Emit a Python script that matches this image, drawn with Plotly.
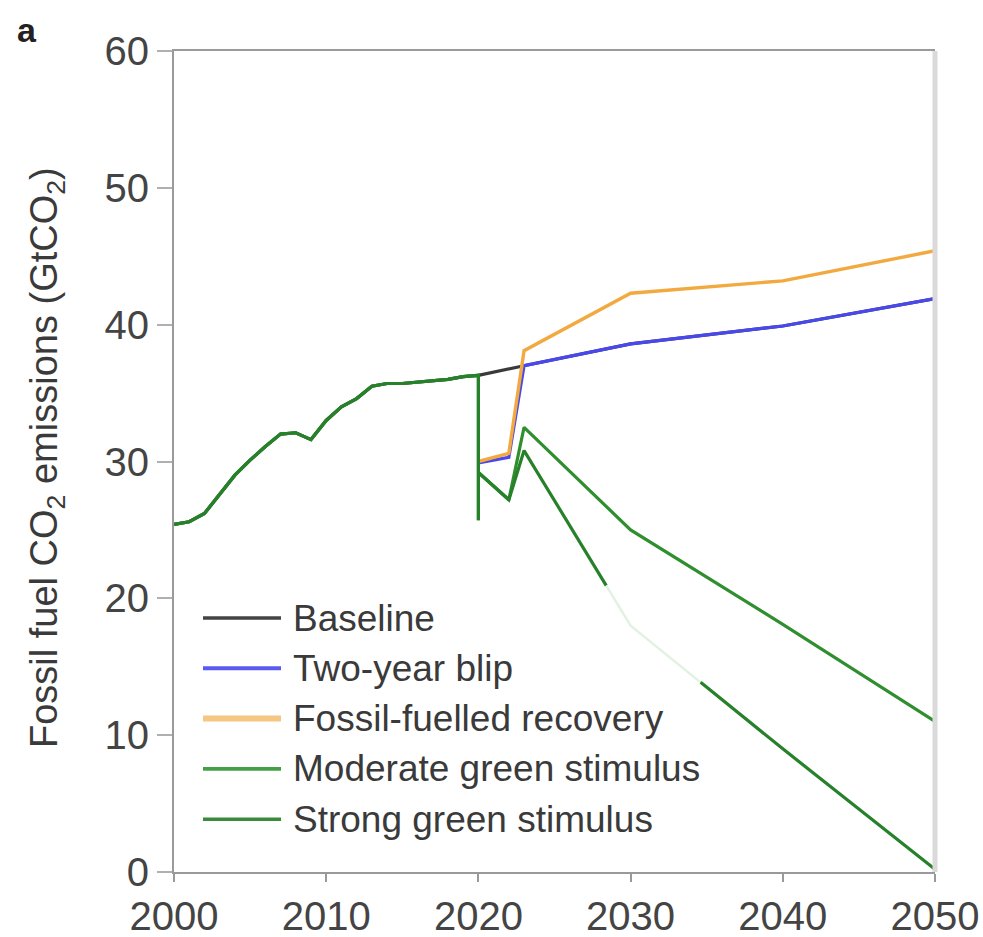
import numpy as np
import plotly.graph_objects as go

# Historical fossil CO2 emissions (GtCO2), shared by every scenario
hist_years = list(range(2000, 2021))
hist_values = [25.4, 25.6, 26.2, 27.6, 29.0, 30.1, 31.1, 32.0, 32.1, 31.6,
               33.0, 34.0, 34.6, 35.5, 35.7, 35.7, 35.8, 35.9, 36.0, 36.2, 36.3]

# Scenario projections
baseline_years = [2020, 2023, 2030, 2040, 2050]
baseline_values = [36.3, 37.0, 38.6, 39.9, 41.9]

blip_years = [2020, 2022, 2023, 2030, 2040, 2050]
blip_values = [29.9, 30.3, 37.0, 38.6, 39.9, 41.9]

fossil_years = [2020, 2022, 2023, 2030, 2040, 2050]
fossil_values = [30.0, 30.6, 38.1, 42.3, 43.2, 45.4]

green_years = [2020, 2020, 2022, 2023, 2030, 2040, 2050]
moderate_values = [25.7, 29.2, 27.2, 32.5, 25.0, 18.1, 11.0]
strong_values = [25.7, 29.2, 27.2, 30.8, 18.0, 9.0, 0.2]

# Span of the strong-stimulus path that is rendered in a pale tint
strong_pale_span = [2028.4, 2034.6]

series_names = ["Baseline", "Two-year blip", "Fossil-fuelled recovery",
                "Moderate green stimulus", "Strong green stimulus"]
series_colors = ["#3a3a3a", "#4848ee", "#f2aa40", "#2f8f2f", "#27802a"]

y_ticks = [0, 10, 20, 30, 40, 50, 60]
x_ticks = [2000, 2010, 2020, 2030, 2040, 2050]

LW = 3.2
fig = go.Figure()

def add_line(x, y, color, width=LW):
    fig.add_trace(go.Scatter(x=x, y=y, mode="lines", showlegend=False,
                             line=dict(color=color, width=width),
                             hoverinfo="skip"))

add_line(hist_years + baseline_years[1:], hist_values + baseline_values[1:], series_colors[0])
add_line(blip_years, blip_values, series_colors[1])
add_line(fossil_years, fossil_values, series_colors[2], 3.4)
add_line(hist_years + green_years, hist_values + moderate_values, series_colors[3])

# Strong green stimulus: dark path with a pale stretch in the late 2020s
sx = np.array(hist_years + green_years, dtype=float)
sy = np.array(hist_values + strong_values, dtype=float)
t0, t1 = strong_pale_span
tail_x = sx[len(hist_years) + 3:]
tail_y = sy[len(hist_years) + 3:]
y0, y1 = np.interp([t0, t1], tail_x, tail_y)
head = sx < t0
add_line(list(sx[head]) + [t0], list(sy[head]) + [y0], series_colors[4])
mid = (sx > t0) & (sx < t1)
add_line([t0] + list(sx[mid]) + [t1], [y0] + list(sy[mid]) + [y1], "#e2f1e2", 2.4)
tail = sx > t1
add_line([t1] + list(sx[tail]), [y1] + list(sy[tail]), series_colors[4])

# Hand-built legend with long line samples
px_left, px_right, px_top, px_bottom = 174, 935, 51, 872
def paper_x(px):
    return (px - px_left) / (px_right - px_left)
def paper_y(py):
    return (px_bottom - py) / (px_bottom - px_top)

legend_widths = [3.4, 4, 6, 3.6, 3.6]
legend_colors = ["#444444", "#5a5af2", "#f6c683", "#44a044", "#3b8a3b"]
for i, (name, col, w) in enumerate(zip(series_names, legend_colors, legend_widths)):
    yy = paper_y(618 + 50.3 * i)
    fig.add_shape(type="line", xref="paper", yref="paper",
                  x0=paper_x(203), x1=paper_x(281), y0=yy, y1=yy,
                  line=dict(color=col, width=w))
    fig.add_annotation(xref="paper", yref="paper", x=paper_x(291), y=yy,
                       text=name, showarrow=False, xanchor="left", yanchor="middle",
                       font=dict(size=37, color="#3a3a3a"))

# Right frame edge in light grey
fig.add_shape(type="line", xref="paper", yref="paper", x0=1, x1=1, y0=0, y1=1,
              line=dict(color="#dadada", width=5))

# Axis title and panel letter
fig.add_annotation(xref="paper", yref="paper", x=paper_x(47), y=paper_y(458),
                   text="Fossil fuel CO<sub>2</sub> emissions (GtCO<sub>2</sub>)",
                   textangle=-90, showarrow=False, xanchor="center", yanchor="middle",
                   font=dict(size=38, color="#3a3a3a"))
fig.add_annotation(xref="paper", yref="paper", x=paper_x(27), y=paper_y(30),
                   text="<b>a</b>", showarrow=False, xanchor="center", yanchor="middle",
                   font=dict(size=34, color="#222222"))

fig.update_layout(
    width=983, height=937,
    margin=dict(l=px_left, r=983 - px_right, t=px_top, b=937 - px_bottom),
    paper_bgcolor="white", plot_bgcolor="white",
    font=dict(family="Liberation Sans, Arial, sans-serif", color="#444444"),
    showlegend=False,
)
fig.update_xaxes(range=[2000, 2050], tickvals=x_ticks, ticktext=[str(v) for v in x_ticks],
                 automargin=False,
                 showgrid=False, zeroline=False, showline=True, linecolor="#9a9a9a",
                 linewidth=2, mirror=True, ticks="outside", ticklen=8, tickwidth=2,
                 tickcolor="#9a9a9a", tickfont=dict(size=40, color="#444444"))
fig.update_yaxes(range=[0, 60], tickvals=y_ticks, showgrid=False, zeroline=False,
                 automargin=False,
                 showline=True, linecolor="#9a9a9a", linewidth=2, ticks="outside",
                 ticklen=15, tickwidth=2, tickcolor="#b0b0b0",
                 tickfont=dict(size=40, color="#444444"))

fig.write_html("out.html")
